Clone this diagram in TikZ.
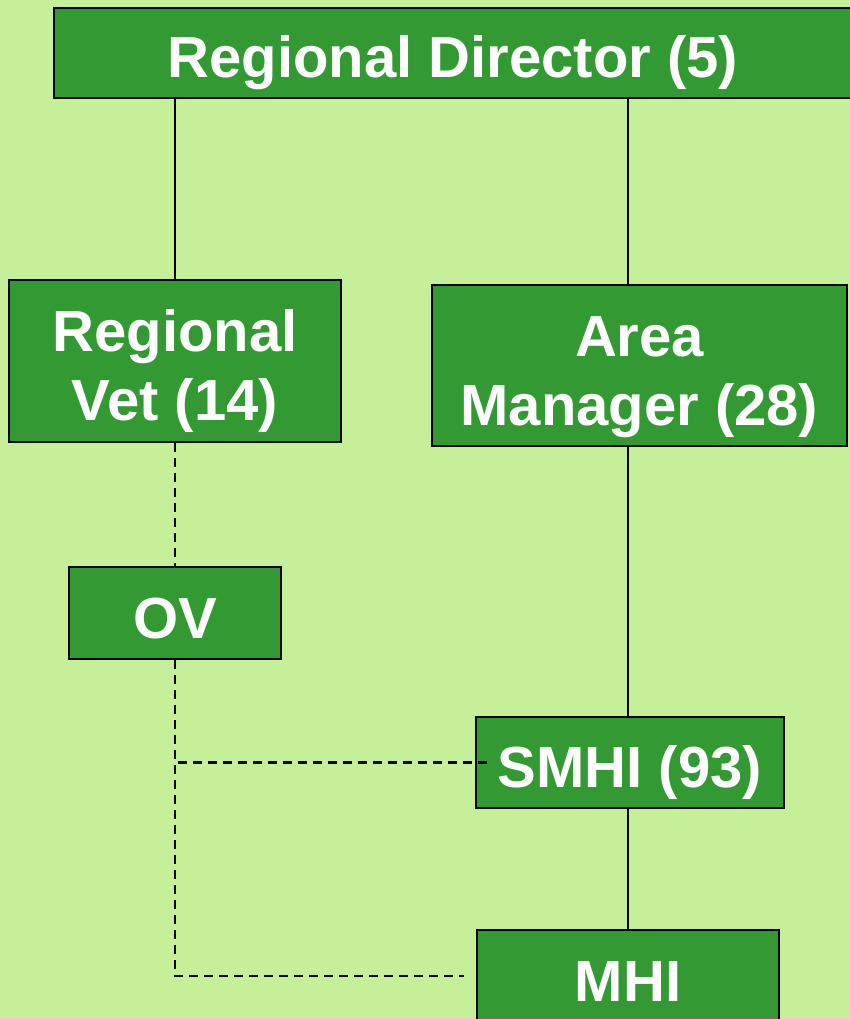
\documentclass[tikz,border=0pt]{standalone}
\usepackage{fontspec}
\setmainfont{Liberation Sans}
\definecolor{bgreen}{RGB}{197,240,153}
\definecolor{boxgreen}{RGB}{51,153,51}
\begin{document}
\begin{tikzpicture}[x=1pt,y=-1pt,line cap=butt,
  box/.style={draw=black,line width=2.8pt,fill=boxgreen,text=white,align=center,inner sep=0pt,
    font=\fontsize{58}{69}\selectfont\bfseries,text height=50pt,text depth=0pt},
  twoline/.style={text height=119pt},
  solidlink/.style={line width=2.8pt},
  dashlink/.style={line width=2.8pt,dash pattern=on 9pt off 6pt}]

\useasboundingbox (0,0) rectangle (850,1019);
\fill [bgreen] (0,0) rectangle (850,1019);
\clip (0,0) rectangle (850,1019);

\node [box,minimum width=798pt,minimum height=90pt] (rd) at (453,53) {Regional Director (5)};

\node [box,twoline,minimum width=332pt,minimum height=162pt] (rvet) at (175,361) {Regional\\Vet (14)};
\node [box,twoline,minimum width=415pt,minimum height=161pt] (am) at (639.5,365.5) {Area\\Manager (28)};

\node [box,minimum width=212pt,minimum height=92pt] (ov) at (175,613) {OV};

\node [box,minimum width=308pt,minimum height=91pt] (smhi) at (630,762.5) {SMHI (93)};
\node [box,minimum width=302pt,minimum height=92pt] (mhi) at (628,976) {MHI};

\draw [solidlink] (rvet.north) -- (rvet.north |- rd.south);
\draw [solidlink] (am.north -| mhi.north) -- (rd.south -| mhi.north);
\draw [solidlink] (am.south -| mhi.north) -- (smhi.north -| mhi.north);
\draw [solidlink] (smhi.south -| mhi.north) -- (mhi.north);

\draw [dashlink] (rvet.south) -- (ov.north);
\draw [dashlink] (ov.south) |- ([xshift=18pt]smhi.west);
\draw [dashlink] (ov.south) |- ([xshift=-12pt]mhi.west);
\end{tikzpicture}
\end{document}
